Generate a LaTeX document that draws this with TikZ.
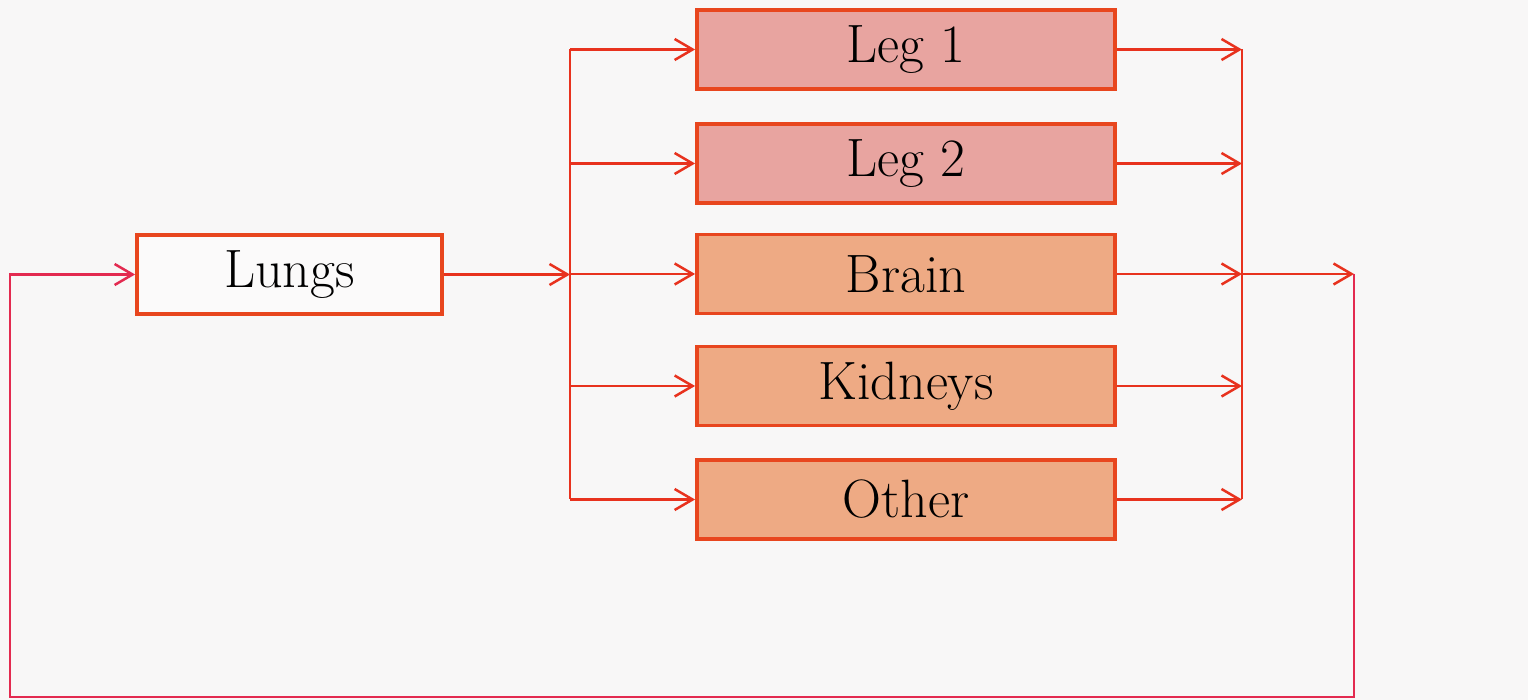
\documentclass[tikz,border=0pt]{standalone}
\usetikzlibrary{arrows.meta}
\definecolor{paper}{HTML}{F8F7F7}
\definecolor{wire}{HTML}{E8321E}
\definecolor{loopwire}{HTML}{E32A50}
\definecolor{edge}{HTML}{E8461E}
\definecolor{legfill}{HTML}{E8A4A0}
\definecolor{organfill}{HTML}{EEAA84}
\definecolor{lungfill}{HTML}{FBFAFA}
\tikzset{
  box/.style={draw=edge, line width=1.9pt, minimum width=209pt, minimum height=39.5pt,
    inner sep=0pt, font=\fontsize{27}{32}\selectfont},
  legbox/.style={box, fill=legfill},
  organbox/.style={box, fill=organfill},
  wireline/.style={draw=wire, line width=1.25pt},
  conn/.style={wireline, -{Straight Barb[length=9pt,width=10.5pt,line width=1.25pt]}},
}
\begin{document}
\begin{tikzpicture}[x=0.5pt,y=-0.5pt]
  % page
  \fill[paper] (0,0) rectangle (1528,700);
  \useasboundingbox (0,0) rectangle (1528,700);

  % bus and loop reference points
  \coordinate (busL) at (570,0);
  \coordinate (busR) at (1242,0);
  \coordinate (retR) at (1354,697);
  \coordinate (retL) at (10,697);

  % boxes
  \node[box, fill=lungfill, minimum width=152.5pt] (lungs) at (289.5,274.5) {Lungs};
  \node[legbox]   (leg1)    at (906,49.5)  {Leg 1};
  \node[legbox]   (leg2)    at (906,163.5) {Leg 2};
  \node[organbox] (brain)   at (906,274)   {Brain};
  \node[organbox] (kidneys) at (906,386)   {Kidneys};
  \node[organbox] (other)   at (906,499.5) {Other};

  % lungs to distribution bus
  \draw[conn] (lungs.east) -- (lungs.east -| busL);
  \draw[wireline] (busL |- leg1) -- (busL |- other);
  \draw[wireline] (busR |- leg1) -- (busR |- other);

  % each organ fed from the left bus and draining to the right bus
  \foreach \n in {leg1,leg2,brain,kidneys,other}{
    \draw[conn] (busL |- \n) -- (\n.west);
    \draw[conn] (\n.east) -- (busR |- \n);
  }

  % return path back to the lungs
  \draw[conn] (busR |- brain) -- (retR |- brain);
  \draw[conn, draw=loopwire] (retR |- brain) -- (retR) -- (retL) |- (lungs.west);
\end{tikzpicture}
\end{document}
